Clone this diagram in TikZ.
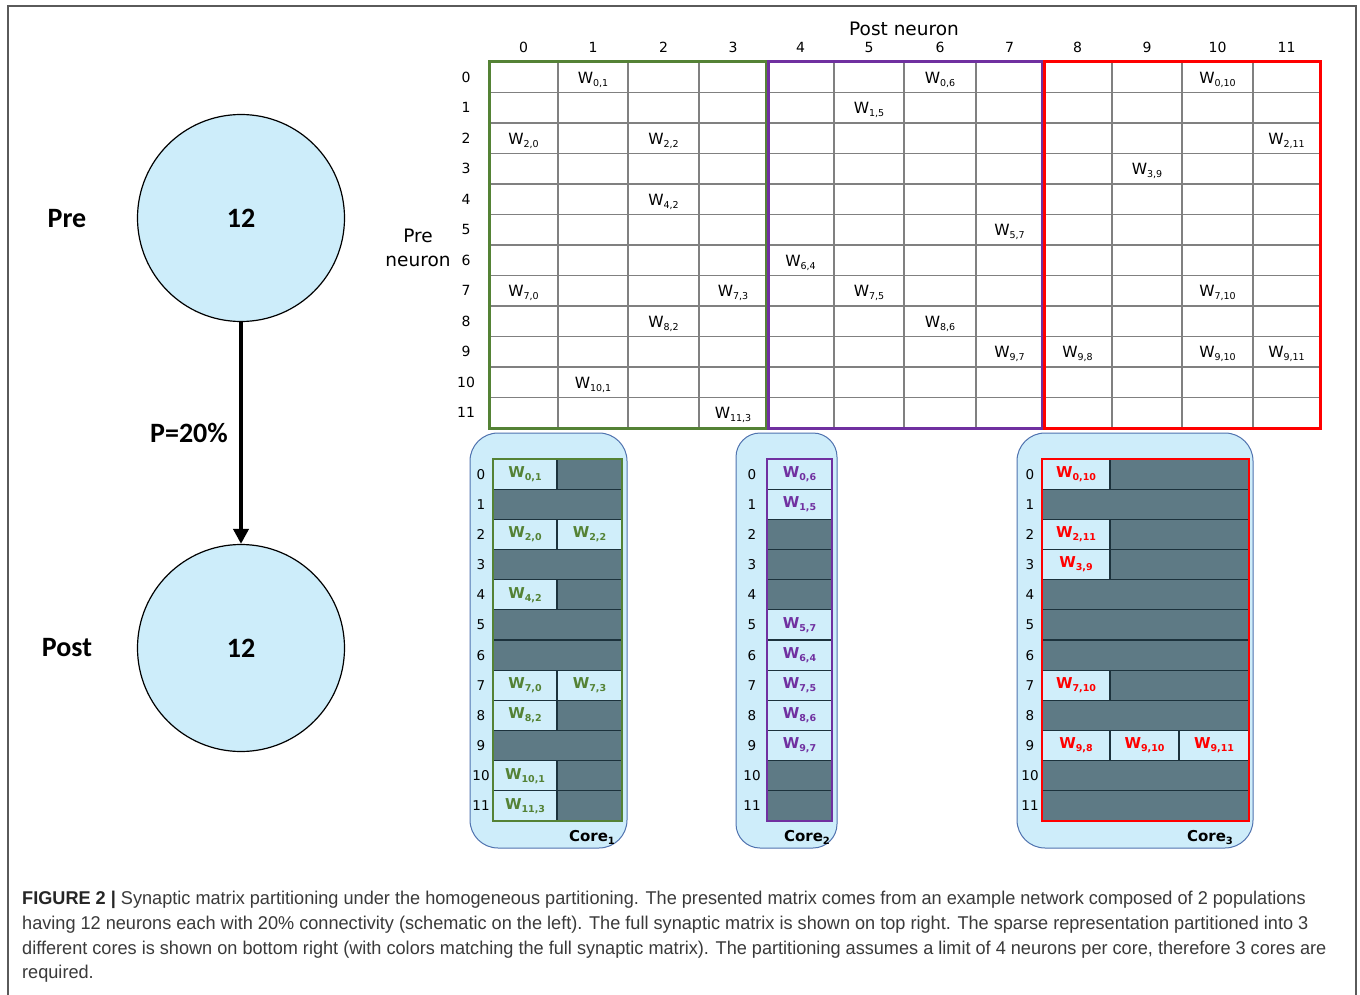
\documentclass[tikz,border=0pt]{standalone}
\usepackage{fontspec}
\setmainfont{DejaVu Sans}
\newfontfamily\calfont{Carlito}
\newfontfamily\capfont{Liberation Sans}[FakeStretch=0.98]
\usetikzlibrary{arrows.meta}
\definecolor{cfill}{RGB}{205,237,250}
\definecolor{corebg}{RGB}{206,237,250}
\definecolor{coreedge}{RGB}{80,115,175}
\definecolor{darkcell}{RGB}{94,122,133}
\definecolor{cellline}{RGB}{28,50,60}
\definecolor{lightcell}{RGB}{208,238,250}
\definecolor{cgreen}{RGB}{84,130,53}
\definecolor{cpurple}{RGB}{112,48,160}
\definecolor{cred}{RGB}{255,0,0}
\definecolor{gridc}{RGB}{128,128,128}
\definecolor{framec}{RGB}{90,90,90}
\definecolor{captext}{RGB}{58,58,58}
\newcommand\fs[1]{\fontsize{#1}{#1}\selectfont}
\newcommand\wt[1]{W\raisebox{-3pt}{\fs{9.5}#1}}
\newcommand\wb[1]{W\raisebox{-3pt}{\fs{9.5}#1}}
\tikzset{
  colnum/.style={font=\fs{14}, inner sep=0pt},
  rownum/.style={font=\fs{14}, inner sep=0pt},
  went/.style={font=\fs{15.5}, inner sep=0pt, anchor=base, yshift=-6pt},
  axlabel/.style={font=\fs{18.5}, inner sep=0pt, align=center},
  bigbold/.style={font=\calfont\bfseries\fs{28}, inner sep=0pt},
  popc/.style={circle, draw=black, line width=1.2pt, fill=cfill, minimum size=207pt, inner sep=0pt, font=\calfont\bfseries\fs{28}},
  corebox/.style={draw=coreedge, line width=1pt, fill=corebg, rounded corners=28pt},
  lcell/.style={draw=cellline, line width=1.2pt, fill=lightcell, inner sep=0pt, minimum height=30.1667pt, font=\bfseries\fs{15}},
  corenum/.style={font=\fs{13.5}, inner sep=0pt},
  corelab/.style={font=\bfseries\fs{15}, inner sep=0pt},
  captxt/.style={font=\capfont\fs{18.5}, text=captext, inner sep=0pt, anchor=base west},
}
\begin{document}
\begin{tikzpicture}[x=1pt,y=-1pt]
\useasboundingbox (0,0) rectangle (1360,995);
\fill[white] (0,0) rectangle (1360,995);
% outer frame
\draw[framec, line width=1.3pt] (8,1000) -- (8,6) -- (1356,6) -- (1356,1000);

% ---------- left schematic ----------
\node[popc] (pre) at (241,218) {12};
\node[popc] (post) at (241,648) {12};
\node[bigbold] (prelab) at (67,219) {Pre};
\node[bigbold] (postlab) at (67,648) {Post};
\draw[line width=4pt, -{Triangle[length=15pt,width=15pt]}] (pre.south) -- (post.north);
\node[bigbold] (plab) at (189,433) {P=20\%};

% ---------- full matrix ----------
\foreach \k in {1,...,11} \draw[gridc, line width=1.2pt] (489,{62+30.5*\k}) -- (1320,{62+30.5*\k});
\foreach \x in {558,628,699,834,904,976,1112,1182,1253} \draw[gridc, line width=1.2pt] (\x,62) -- (\x,428);
\draw[cgreen, line width=3pt] (489,62) rectangle (766,428);
\draw[cpurple, line width=3pt] (768,62) rectangle (1042,428);
\draw[cred, line width=3pt] (1044,62) rectangle (1320,428);

\foreach \i/\l/\r in {0/489/558,1/558/628,2/628/699,3/699/767,4/767/834,5/834/904,6/904/976,7/976/1043,8/1043/1112,9/1112/1182,10/1182/1253,11/1253/1320}{
  \node[colnum] (ch\i) at ({(\l+\r)/2},47) {\i};
}
\foreach \i in {0,...,11}{
  \node[rownum] (rh\i) at (466,{62+30.5*\i+15.25}) {\i};
}
\node[axlabel] (postneuron) at (904,29) {Post neuron};
\node[axlabel] (preneuron) at (418,248) {Pre\\[5pt]neuron};

\foreach \i/\j in {0/1,0/6,0/10,1/5,2/0,2/2,2/11,3/9,4/2,5/7,6/4,7/0,7/3,7/5,7/10,8/2,8/6,9/7,9/8,9/10,9/11,10/1,11/3}{
  \node[went] (w\i-\j) at (ch\j |- rh\i) {\wt{\i,\j}};
}

% ---------- cores ----------
% Core 1
\draw[corebox] (470,433) rectangle (627,848);
\fill[darkcell] (493,459) rectangle (622,821);
\foreach \k in {1,...,11} \draw[cellline, line width=1.2pt] (493,{459+30.1667*\k}) -- (622,{459+30.1667*\k});
\foreach \r/\a/\b/\t in {0/493/557/{0,1},2/493/557/{2,0},2/557/622/{2,2},4/493/557/{4,2},7/493/557/{7,0},7/557/622/{7,3},8/493/557/{8,2},10/493/557/{10,1},11/493/557/{11,3}}{
  \node[lcell, text=cgreen, minimum width={\b-\a}] (ka-\r-\a) at ({(\a+\b)/2},{459+30.1667*(\r+0.5)}) {\wb{\t}};
}
\draw[cgreen, line width=2.6pt] (493,459) rectangle (622,821);
\foreach \k in {0,...,11} \node[corenum] (ra\k) at (481,{459+30.1667*(\k+0.5)}) {\k};
\node[corelab] (core1) at (592,837) {Core\raisebox{-3pt}{\fs{10}1}};

% Core 2
\draw[corebox, rounded corners=24pt] (736,433) rectangle (837,848);
\fill[darkcell] (767,459) rectangle (832,821);
\foreach \k in {1,...,11} \draw[cellline, line width=1.2pt] (767,{459+30.1667*\k}) -- (832,{459+30.1667*\k});
\foreach \r/\t in {0/{0,6},1/{1,5},5/{5,7},6/{6,4},7/{7,5},8/{8,6},9/{9,7}}{
  \node[lcell, text=cpurple, minimum width=65] (kb-\r) at (799.5,{459+30.1667*(\r+0.5)}) {\wb{\t}};
}
\draw[cpurple, line width=2.6pt] (767,459) rectangle (832,821);
\foreach \k in {0,...,11} \node[corenum] (rb\k) at (752,{459+30.1667*(\k+0.5)}) {\k};
\node[corelab] (core2) at (807,837) {Core\raisebox{-3pt}{\fs{10}2}};

% Core 3
\draw[corebox] (1017,433) rectangle (1253,848);
\fill[darkcell] (1042,459) rectangle (1249,821);
\foreach \k in {1,...,11} \draw[cellline, line width=1.2pt] (1042,{459+30.1667*\k}) -- (1249,{459+30.1667*\k});
\foreach \r/\a/\b/\t in {0/1042/1110/{0,10},2/1042/1110/{2,11},3/1042/1110/{3,9},7/1042/1110/{7,10},9/1042/1110/{9,8},9/1110/1179/{9,10},9/1179/1249/{9,11}}{
  \node[lcell, text=cred, minimum width={\b-\a}] (kc-\r-\a) at ({(\a+\b)/2},{459+30.1667*(\r+0.5)}) {\wb{\t}};
}
\draw[cred, line width=2.6pt] (1042,459) rectangle (1249,821);
\foreach \k in {0,...,11} \node[corenum] (rc\k) at (1030,{459+30.1667*(\k+0.5)}) {\k};
\node[corelab] (core3) at (1210,837) {Core\raisebox{-3pt}{\fs{10}3}};

% ---------- caption ----------
\node[captxt] (cap1) at (22,904) {\textbf{\color{black!85}FIGURE 2 |} Synaptic matrix partitioning under the homogeneous partitioning. The presented matrix comes from an example network composed of 2 populations};
\node[captxt] (cap2) at (22,929) {having 12 neurons each with 20\% connectivity (schematic on the left). The full synaptic matrix is shown on top right. The sparse representation partitioned into 3};
\node[captxt] (cap3) at (22,954) {different cores is shown on bottom right (with colors matching the full synaptic matrix). The partitioning assumes a limit of 4 neurons per core, therefore 3 cores are};
\node[captxt] (cap4) at (22,978) {required.};
\end{tikzpicture}
\end{document}
